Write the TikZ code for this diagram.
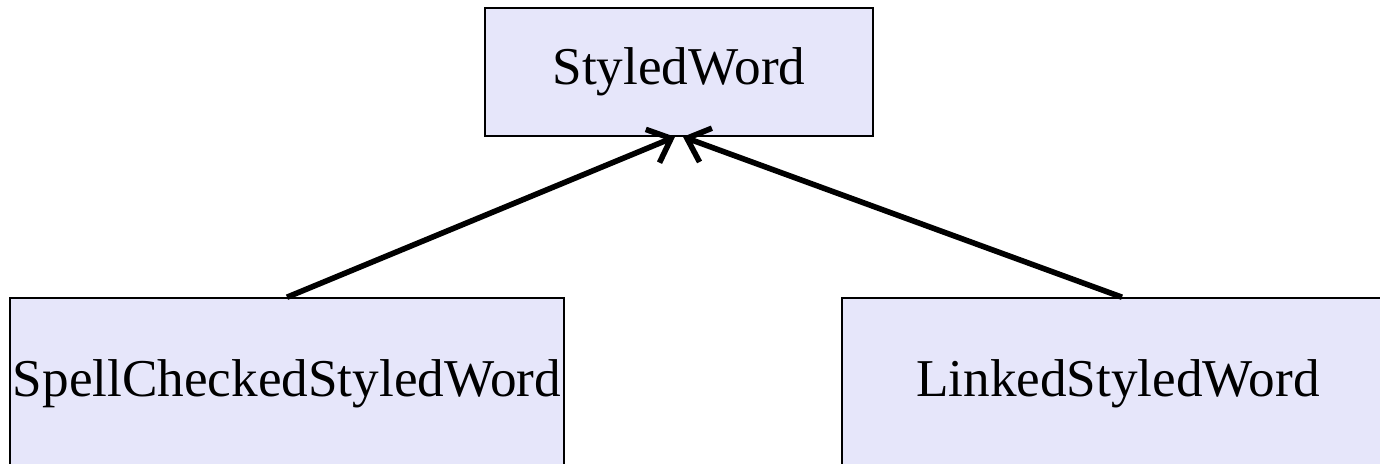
\documentclass[tikz,border=0pt]{standalone}
\usepackage{fontspec}
\setmainfont{Liberation Serif}
\usetikzlibrary{arrows.meta}

\begin{document}
\begin{tikzpicture}[x=0.5pt,y=-0.5pt,
        classbox/.style={draw=black,line width=0.8pt,fill={rgb,255:red,230;green,230;blue,250},
            inner sep=0pt,font=\fontsize{26.6}{30}\selectfont},
        inherit/.style={line width=2.8pt,-{Straight Barb[length=10pt,width=18pt,line width=2.8pt]}}]
                \clip (0,0) rectangle (1380,463);
                \node[classbox,minimum width=194pt,minimum height=64pt] (styled) at (679,72) {StyledWord};
                \node[classbox,minimum width=277pt,minimum height=86pt] (spell) at (287,384) {SpellCheckedStyledWord};
                \node[classbox,minimum width=276pt,minimum height=86pt] (linked) at (1118,384) {LinkedStyledWord};
                \draw[inherit] (spell.north) -- ([xshift=-2pt]styled.south);
                \draw[inherit] ([xshift=2pt]linked.north) -- ([xshift=2pt]styled.south);
            \end{tikzpicture}
\end{document}
